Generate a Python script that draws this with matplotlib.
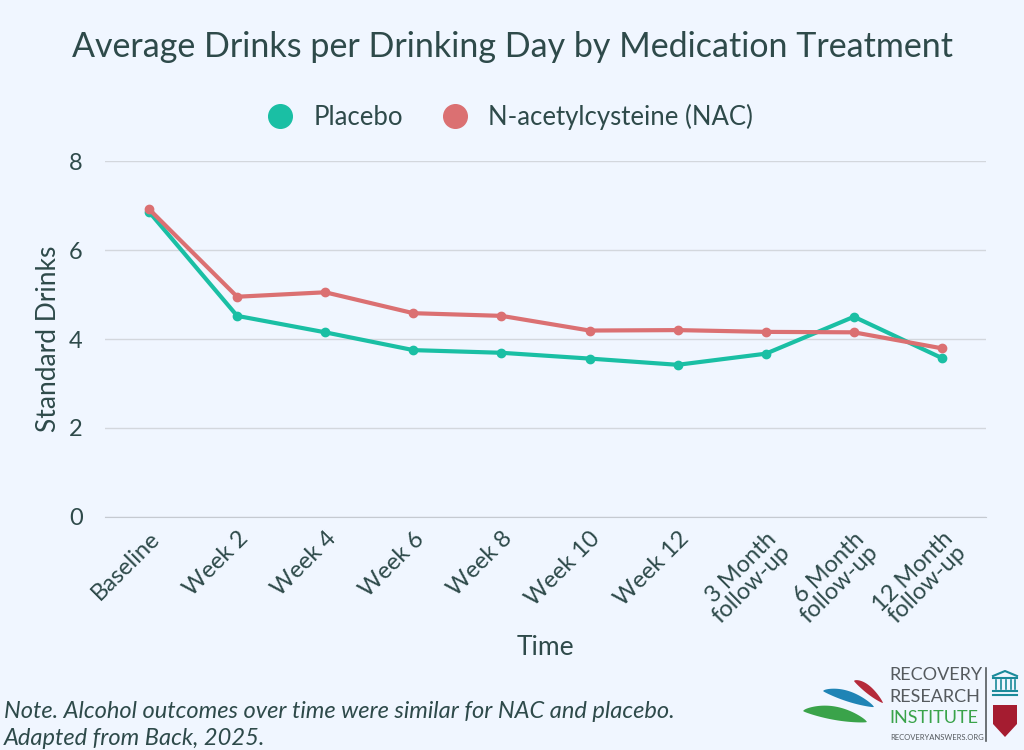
import numpy as np
import matplotlib
matplotlib.use("Agg")
import matplotlib.pyplot as plt
from matplotlib.lines import Line2D
from matplotlib.patches import Polygon

# data
time_points = ["Baseline", "Week 2", "Week 4", "Week 6", "Week 8", "Week 10",
               "Week 12", "3 Month\nfollow-up", "6 Month\nfollow-up",
               "12 Month\nfollow-up"]
placebo = [6.86, 4.52, 4.15, 3.75, 3.69, 3.56, 3.42, 3.67, 4.50, 3.57]
nac     = [6.92, 4.95, 5.05, 4.58, 4.52, 4.19, 4.20, 4.16, 4.15, 3.79]
y_ticks = [0, 2, 4, 6, 8]

BG      = "#F0F6FF"
TEXT    = "#2E4A4A"
TEAL    = "#1ABFA4"
RED     = "#DB7072"
GRID    = "#D3D7DD"

plt.rcParams["font.family"] = ["Lato", "DejaVu Sans"]

fig = plt.figure(figsize=(10.24, 7.5), dpi=100, facecolor=BG)
ax = fig.add_axes([0.1025, 0.3107, 0.8605, 0.4746], facecolor=BG)

x = np.arange(len(time_points))
ax.plot(x, placebo, color=TEAL, lw=3, marker="o", ms=6, zorder=3)
ax.plot(x, nac, color=RED, lw=3, marker="o", ms=6, zorder=3)

ax.set_xlim(-0.5, len(time_points) - 0.5)
ax.set_ylim(0, 8)
ax.set_yticks(y_ticks)
ax.yaxis.grid(True, color=GRID, lw=1)
ax.set_axisbelow(True)
for s in ["top", "right", "left"]:
    ax.spines[s].set_visible(False)
ax.spines["bottom"].set_color("#C5CAD1")
ax.tick_params(axis="both", length=0, colors=TEXT, labelsize=17)
ax.tick_params(axis="y", pad=16)
ax.set_xticks(x)
ax.set_xticklabels(time_points, rotation=45, ha="right",
                   rotation_mode="anchor", linespacing=0.85)
ax.tick_params(axis="x", pad=8)

ax.set_ylabel("Standard Drinks", fontsize=19, color=TEXT, labelpad=6)
ax.set_xlabel("Time", fontsize=19, color=TEXT, labelpad=4)

fig.text(0.5, 0.937, "Average Drinks per Drinking Day by Medication Treatment",
         ha="center", va="center", fontsize=24.5, color=TEXT)

handles = [
    Line2D([], [], ls="none", marker="o", ms=17, color=TEAL, label="Placebo"),
    Line2D([], [], ls="none", marker="o", ms=17, color=RED,
           label="N-acetylcysteine (NAC)"),
]
fig.legend(handles=handles, loc="center", bbox_to_anchor=(0.492, 0.844),
           ncol=2, frameon=False, fontsize=18.5, labelcolor=TEXT,
           handletextpad=0.3, columnspacing=1.0)

fig.text(0.004, 0.052, "Note. Alcohol outcomes over time were similar for NAC and placebo.",
         fontsize=17, style="italic", color=TEXT, va="center")
fig.text(0.004, 0.015, "Adapted from Back, 2025.",
         fontsize=17, style="italic", color=TEXT, va="center")

# logo, drawn in pixel units of its own box
lg = fig.add_axes([790 / 1024, 0.0, 234 / 1024, 90 / 750])
lg.set_xlim(0, 234)
lg.set_ylim(90, 0)
lg.axis("off")
t = np.linspace(0, 1, 40)


def swoosh(x0, y0, x1, y1, bulge, color):
    xs = x0 + (x1 - x0) * t
    ys = y0 + (y1 - y0) * t
    top = ys - bulge * np.sin(np.pi * t) ** 0.7
    bot = ys + bulge * 0.35 * np.sin(np.pi * t) ** 0.7
    pts = np.vstack([np.column_stack([xs, top]),
                     np.column_stack([xs[::-1], bot[::-1]])])
    lg.add_patch(Polygon(pts, closed=True, color=color, lw=0))


swoosh(13, 51, 77, 62, 10, "#3AA34A")
swoosh(33, 31, 84, 47, 8, "#1F84B5")
swoosh(64, 21, 93, 43, 7, "#B52A3A")
lg.text(99, 15, "RECOVERY", fontsize=13, color="#555A5E", ha="left", va="center")
lg.text(99, 37, "RESEARCH", fontsize=13, color="#555A5E", ha="left", va="center")
lg.text(99, 58, "INSTITUTE", fontsize=13, color="#3AA34A", ha="left", va="center")
lg.text(100, 78, "RECOVERYANSWERS.ORG", fontsize=5.5, color="#555A5E",
        ha="left", va="center")
lg.plot([196, 196], [8, 81], color="#555A5E", lw=1.2)
# building icon
ic = "#1A8A9A"
lg.plot([203, 215, 227], [16, 11, 16], color=ic, lw=1.5)
lg.plot([203, 227], [18, 18], color=ic, lw=1.5)
for cx in [206, 211, 216, 221, 225]:
    lg.plot([cx, cx], [20, 29], color=ic, lw=1.2)
lg.plot([203, 227], [31, 31], color=ic, lw=1.5)
lg.plot([203, 227], [35, 35], color=ic, lw=1.5)
# shield
lg.add_patch(Polygon([(203, 45), (227, 45), (227, 64), (215, 77), (203, 64)],
                     closed=True, color="#A51C30", lw=0))

fig.savefig("out.png", dpi=100, facecolor=BG)
